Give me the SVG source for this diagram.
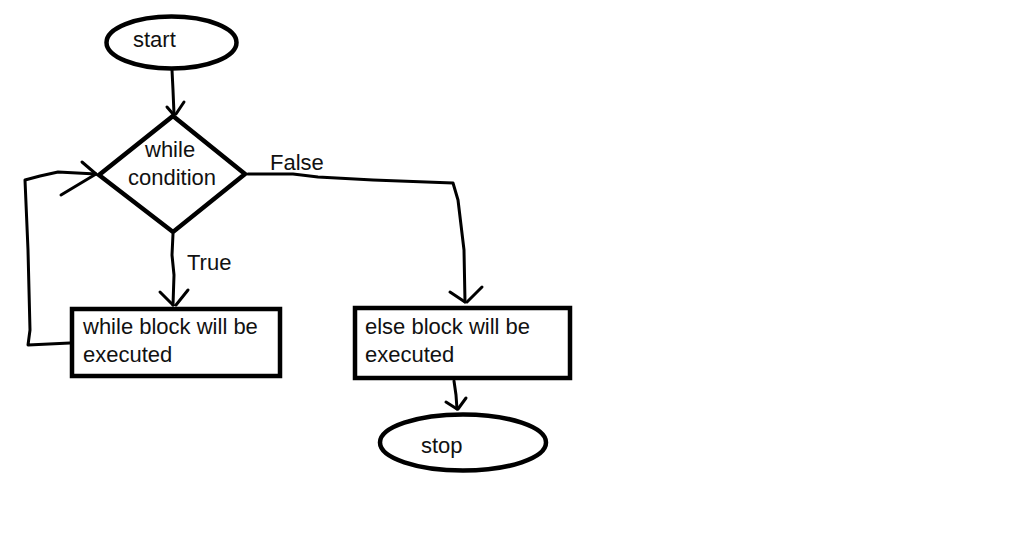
<svg xmlns="http://www.w3.org/2000/svg" width="1016" height="549" viewBox="0 0 1016 549">
<style>
.shape{fill:#fff;stroke:#000;stroke-width:4.5;stroke-linejoin:miter}
.line{fill:none;stroke:#000;stroke-width:3;stroke-linecap:round;stroke-linejoin:round}
.t{font-family:"Liberation Sans",Arial,sans-serif;font-size:22px;fill:#111}
</style>
<rect width="1016" height="549" fill="#fff"/>
<g id="connectors">
<path class="line" d="M172,70 L173,90 L174,114"/>
<path class="line" d="M167,107 L173,114 M184,102 L176,114"/>
<path class="line" d="M173,234 L172,255 L174,275 L173,305"/>
<path class="line" d="M160,292 L173,305 M188,290 L176,305"/>
<path class="line" d="M70,343 L28,345 L30,330 L28,250 L25,180 L40,176 L58,172 L96,174"/>
<path class="line" d="M82,162 L96,174 M61,195 L96,174"/>
<path class="line" d="M248,174 L293,174 L318,177 L373,180 L453,183 L458,200 L464,250 L465,302"/>
<path class="line" d="M450,292 L465,302 M482,287 L467,302"/>
<path class="line" d="M454,381 L456,395 L457,409"/>
<path class="line" d="M446,402 L457,409 M466,398 L458,409"/>
</g>
<g id="start">
<ellipse class="shape" cx="171.5" cy="42.5" rx="65" ry="26"/>
<text class="t" x="133" y="47">start</text>
</g>
<g id="condition">
<polygon class="shape" points="173,116 245,174 173,232 99,175"/>
<text class="t" x="145" y="157">while</text>
<text class="t" x="128" y="185">condition</text>
</g>
<g id="label-false"><text class="t" x="270" y="170">False</text></g>
<g id="label-true"><text class="t" x="187" y="270">True</text></g>
<g id="while-block">
<rect class="shape" x="72" y="309" width="208" height="67"/>
<text class="t" x="83" y="334">while block will be</text>
<text class="t" x="83" y="362">executed</text>
</g>
<g id="else-block">
<rect class="shape" x="355" y="308" width="215" height="70"/>
<text class="t" x="365" y="334">else block will be</text>
<text class="t" x="365" y="362">executed</text>
</g>
<g id="stop">
<ellipse class="shape" cx="463" cy="442.5" rx="83" ry="28"/>
<text class="t" x="421" y="453">stop</text>
</g>
</svg>
